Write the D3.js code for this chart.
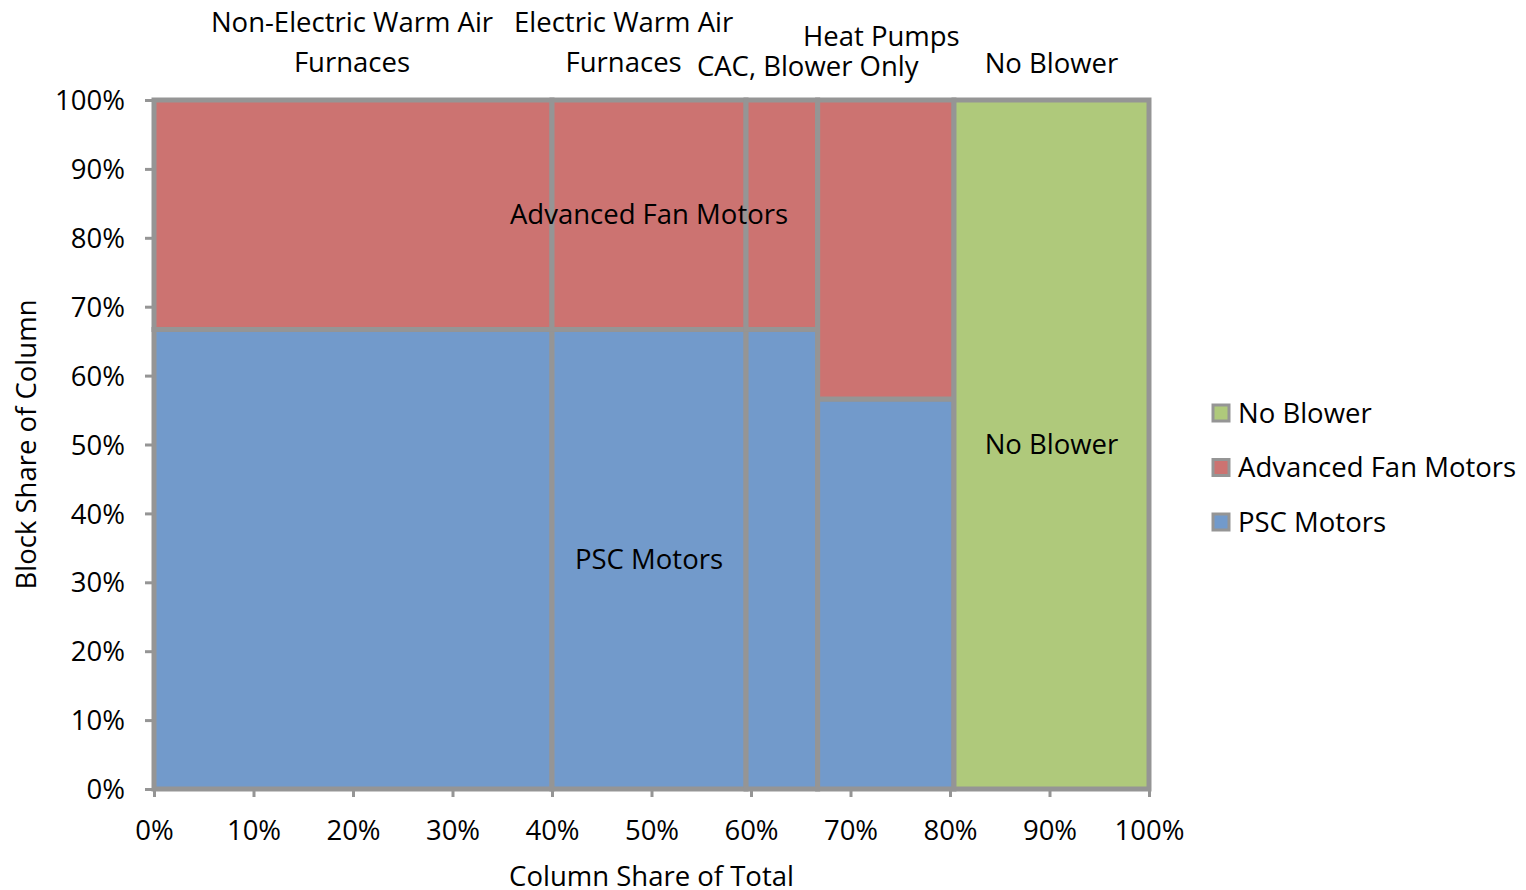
<!DOCTYPE html>
<html>
<head>
<meta charset="utf-8">
<script src="https://cdn.jsdelivr.net/npm/d3@7"></script>
<style>
  html, body { margin: 0; padding: 0; background: #fff; }
  svg text { font-family: "Open Sans", "Noto Sans", sans-serif; fill: #000; }
</style>
</head>
<body>
<svg id="chart" width="1526" height="890"></svg>
<script>
// ---- data ----
const columns = ["Non-Electric Warm Air Furnaces", "Electric Warm Air Furnaces", "CAC, Blower Only", "Heat Pumps", "No Blower"];
const columnShare = [40.0, 19.5, 7.2, 13.7, 19.6];           // % of total
const pscMotors = [66.7, 66.7, 66.7, 56.6, 0];                // % of column
const advancedFanMotors = [33.3, 33.3, 33.3, 43.4, 0];        // % of column
const noBlower = [0, 0, 0, 0, 100];                           // % of column
const seriesNames = ["PSC Motors", "Advanced Fan Motors", "No Blower"];
const seriesColors = ["#729acb", "#cc7371", "#afc97b"];
const xTicks = [0, 10, 20, 30, 40, 50, 60, 70, 80, 90, 100];
const yTicks = [0, 10, 20, 30, 40, 50, 60, 70, 80, 90, 100];
// column header labels: text lines, x position in %, first-line row
const headerLabels = [
  { lines: ["Non-Electric Warm Air", "Furnaces"], x: 19.9, row: 0 },
  { lines: ["Electric Warm Air", "Furnaces"], x: 47.2, row: 0 },
  { lines: ["Heat Pumps"], x: 73.1, row: 0.35 },
  { lines: ["CAC, Blower Only"], x: 65.7, row: 1.1 },
  { lines: ["No Blower"], x: 90.2, row: 1.02 }
];
// in-block labels
const blockLabels = [
  { series: 1, col: 1, text: "Advanced Fan Motors" },
  { series: 0, col: 1, text: "PSC Motors" },
  { series: 2, col: 4, text: "No Blower" }
];

// ---- layout ----
const svg = d3.select("#chart");
const plot = { left: 154, right: 1149, top: 100, bottom: 789 };
const x = d3.scaleLinear().domain([0, 100]).range([plot.left, plot.right]);
const y = d3.scaleLinear().domain([0, 100]).range([plot.bottom, plot.top]);
const FS = 27.5;
const gray = "#959595";

// build cells
const seriesValues = [pscMotors, advancedFanMotors, noBlower];
const cells = [];
let cum = 0;
columns.forEach((c, i) => {
  const x0 = cum, x1 = cum + columnShare[i];
  cum = x1;
  let yc = 0;
  seriesValues.forEach((vals, s) => {
    const v = vals[i];
    if (v > 0) {
      cells.push({ col: i, series: s, x0, x1, y0: yc, y1: yc + v });
    }
    yc += v;
  });
});

svg.append("g").selectAll("rect").data(cells).join("rect")
  .attr("x", d => x(d.x0))
  .attr("y", d => y(d.y1))
  .attr("width", d => x(d.x1) - x(d.x0))
  .attr("height", d => y(d.y0) - y(d.y1))
  .attr("fill", d => seriesColors[d.series])
  .attr("stroke", gray)
  .attr("stroke-width", 5);

// axes
const xAxis = d3.axisBottom(x).tickValues(xTicks).tickFormat(d => d + "%").tickSizeInner(8).tickSizeOuter(0).tickPadding(23.5);
const gx = svg.append("g").attr("transform", `translate(0,${plot.bottom})`).call(xAxis);
const yAxis = d3.axisLeft(y).tickValues(yTicks).tickFormat(d => d + "%").tickSizeInner(9).tickSizeOuter(0).tickPadding(20);
const gy = svg.append("g").attr("transform", `translate(${plot.left},0)`).call(yAxis);
[gx, gy].forEach(g => {
  g.select(".domain").attr("stroke", gray).attr("stroke-width", 3);
  g.selectAll(".tick line").attr("stroke", gray).attr("stroke-width", 3);
  g.selectAll(".tick text").style("font-size", FS + "px").style("font-family", '"Open Sans", sans-serif').attr("fill", "#000");
});
gy.selectAll(".tick text").attr("dy", "0.35em");

// header labels
const hdr = svg.append("g");
headerLabels.forEach(h => {
  h.lines.forEach((t, k) => {
    hdr.append("text")
      .attr("x", x(h.x))
      .attr("y", 32 + (h.row + k) * 40)
      .attr("text-anchor", "middle")
      .style("font-size", FS + "px")
      .text(t);
  });
});

// block labels
blockLabels.forEach(b => {
  const c = cells.find(d => d.col === b.col && d.series === b.series);
  svg.append("text")
    .attr("x", x((c.x0 + c.x1) / 2))
    .attr("y", y((c.y0 + c.y1) / 2))
    .attr("dy", "0.35em")
    .attr("text-anchor", "middle")
    .style("font-size", FS + "px")
    .text(b.text);
});

// axis titles
svg.append("text")
  .attr("transform", `translate(36,${(plot.top + plot.bottom) / 2}) rotate(-90)`)
  .attr("text-anchor", "middle")
  .style("font-size", FS + "px")
  .text("Block Share of Column");
svg.append("text")
  .attr("x", (plot.left + plot.right) / 2)
  .attr("y", 886)
  .attr("text-anchor", "middle")
  .style("font-size", FS + "px")
  .text("Column Share of Total");

// legend
const legendOrder = [2, 1, 0];
const lg = svg.append("g").attr("transform", "translate(1212,413)");
legendOrder.forEach((s, i) => {
  const g = lg.append("g").attr("transform", `translate(0,${i * 54.5})`);
  g.append("rect").attr("x", 1).attr("y", -8).attr("width", 16).attr("height", 16)
    .attr("fill", seriesColors[s]).attr("stroke", gray).attr("stroke-width", 3);
  g.append("text").attr("x", 26).attr("y", 0).attr("dy", "0.35em")
    .style("font-size", FS + "px").text(seriesNames[s]);
});
</script>
</body>
</html>
